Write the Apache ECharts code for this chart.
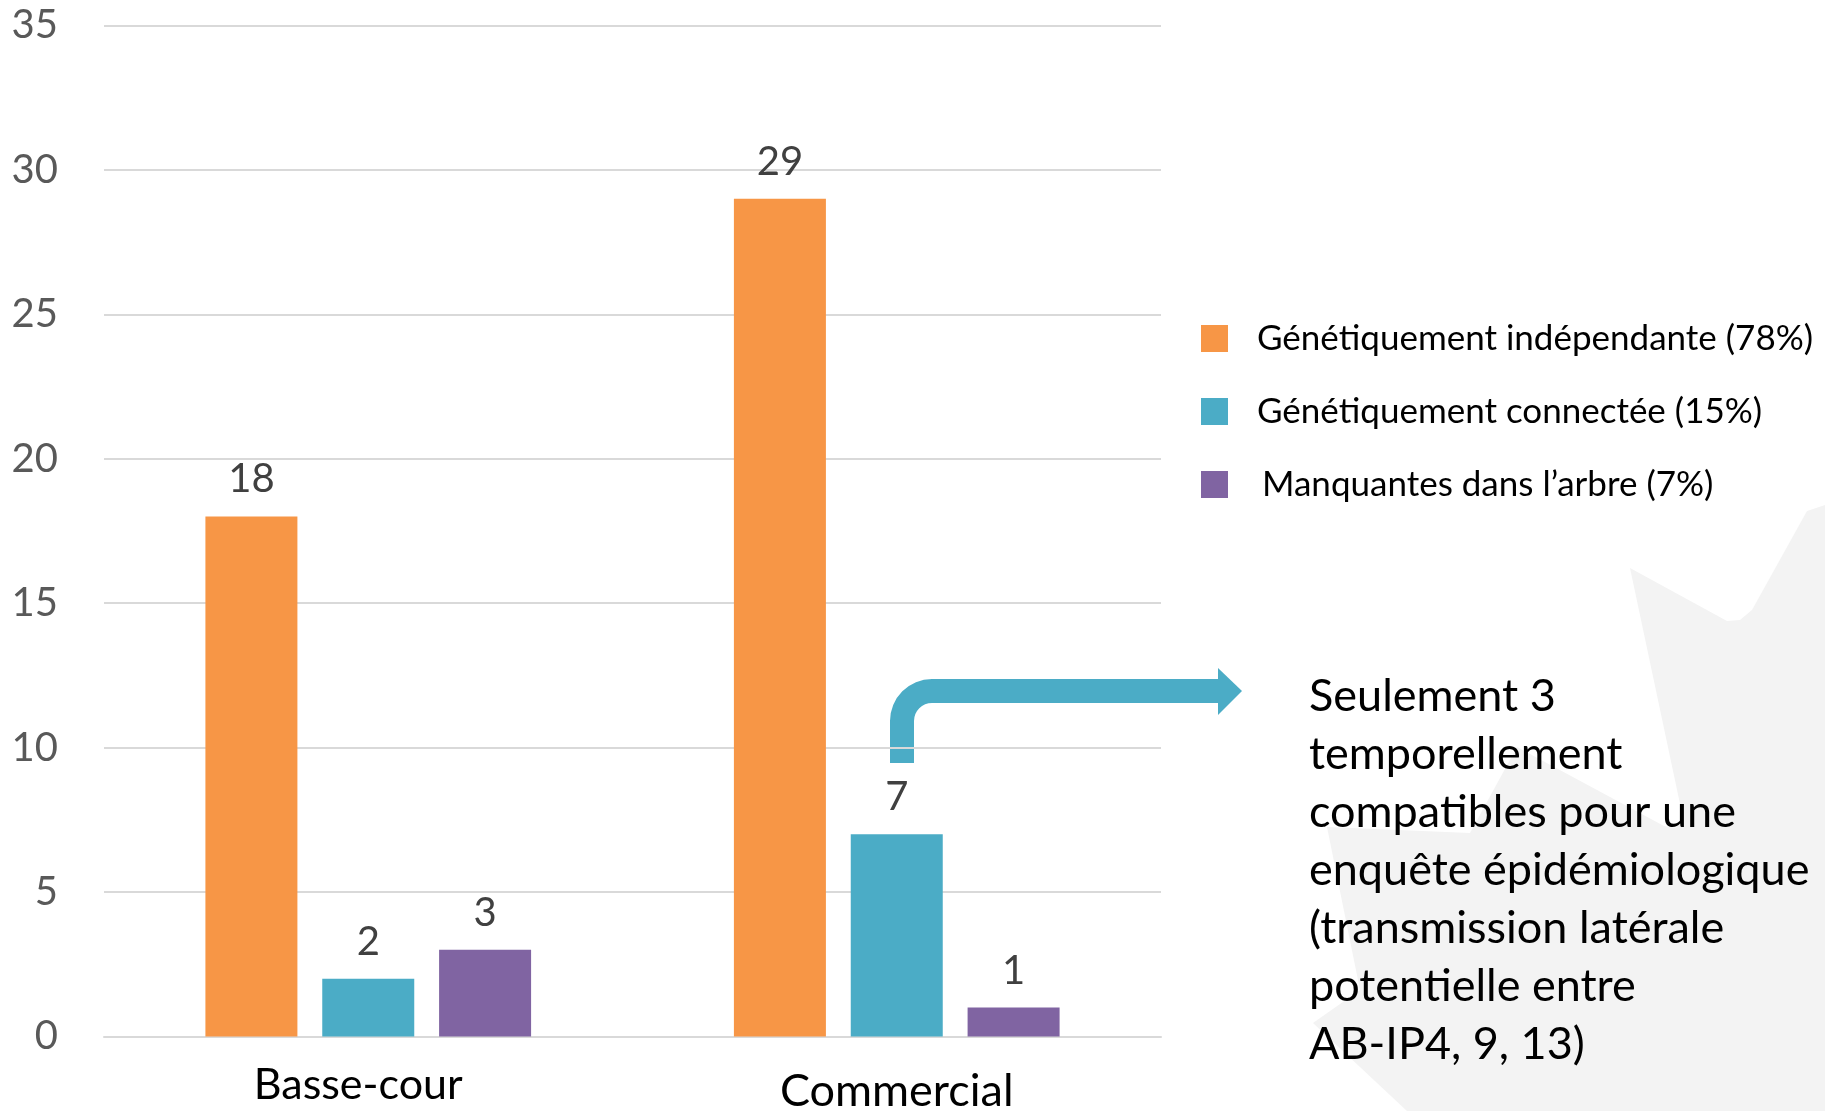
<!DOCTYPE html>
<html>
<head>
<meta charset="utf-8">
<title>Arbre phylogénétique — statut des exploitations</title>
<script src="https://cdn.jsdelivr.net/npm/echarts@6/dist/echarts.min.js"></script>
<style>
  html, body { margin: 0; padding: 0; background: #ffffff; }
  #chart { width: 1825px; height: 1111px; }
</style>
</head>
<body>
<div id="chart"></div>
<script>
// Categories and counts per series
const categories = ['Basse-cour', 'Commercial'];
const seriesNames = [
  'Génétiquement indépendante (78%)',
  'Génétiquement connectée (15%)',
  'Manquantes dans l\u2019arbre (7%)'
];
const independante = [18, 29];
const connectee = [2, 7];
const manquantes = [3, 1];
const yTicks = [0, 5, 10, 15, 20, 25, 30, 35];

const noteLines = [
  'Seulement 3',
  'temporellement',
  'compatibles pour une',
  'enquête épidémiologique',
  '(transmission latérale',
  'potentielle entre',
  'AB-IP4, 9, 13)'
];

const colors = ['#F79646', '#4BACC6', '#8064A2'];
const FONT = 'Lato, "Noto Sans", sans-serif';

const chart = echarts.init(document.getElementById('chart'), null, { renderer: 'canvas' });

function barSeries(name, data, color) {
  return {
    name: name,
    type: 'bar',
    data: data,
    barWidth: 92,
    barGap: '27%',
    itemStyle: { color: color },
    label: {
      show: true,
      position: 'top',
      distance: 17,
      color: '#404040',
      fontFamily: FONT,
      fontSize: 40
    },
    emphasis: { disabled: true }
  };
}

const ARROW = '#4BACC6';

const option = {
  backgroundColor: '#ffffff',
  animation: false,
  grid: {
    left: 104, right: 664, top: 25.5, bottom: 74.5,
    containLabel: false,
    outerBoundsMode: 'none'
  },
  xAxis: {
    type: 'category',
    data: categories,
    axisTick: { show: false },
    axisLine: { lineStyle: { color: '#D9D9D9', width: 2 } },
    axisLabel: {
      margin: 27,
      color: '#000000',
      fontFamily: FONT,
      fontSize: 44,
      formatter: function (v) { return v === 'Basse-cour' ? '{a|' + v + '}' : '{b|' + v + '}'; },
      rich: {
        a: { fontFamily: FONT, fontSize: 43, color: '#000', padding: [0, 20, 0, 0] },
        b: { fontFamily: FONT, fontSize: 45, color: '#000', padding: [5, 0, 0, 0] }
      }
    }
  },
  yAxis: {
    type: 'value',
    min: yTicks[0],
    max: yTicks[yTicks.length - 1],
    interval: yTicks[1] - yTicks[0],
    axisLine: { show: false },
    axisTick: { show: false },
    axisLabel: { margin: 46, color: '#595959', fontFamily: FONT, fontSize: 40 },
    splitLine: { lineStyle: { color: '#D9D9D9', width: 2 } }
  },
  legend: {
    orient: 'vertical',
    left: 1196,
    top: 316,
    icon: 'rect',
    itemWidth: 27,
    itemHeight: 27,
    itemGap: 38,
    selectedMode: false,
    textStyle: { color: '#000000', fontFamily: FONT, fontSize: 35, lineHeight: 27, padding: [0, 0, 0, 24] },
    data: [
      { name: seriesNames[0] },
      { name: seriesNames[1] },
      { name: seriesNames[2], textStyle: { padding: [0, 0, 0, 29] } }
    ]
  },
  graphic: [
    // faint leaf watermark, lower right corner
    {
      type: 'polygon',
      silent: true,
      z: -10,
      shape: {
        points: [
          [1825, 505], [1807, 511], [1752, 610], [1740, 620], [1727, 621],
          [1630, 568], [1683, 818], [1676, 828], [1664, 826],
          [1517, 747], [1470, 833], [1327, 827], [1360, 990],
          [1313, 1023], [1407, 1111], [1825, 1111]
        ]
      },
      style: { fill: '#F3F3F3' }
    },
    // bent arrow leading from the connected commercial bar to the note
    {
      type: 'rect',
      silent: true,
      shape: { x: 890, y: 720, width: 24, height: 43 },
      style: { fill: ARROW }
    },
    {
      type: 'sector',
      silent: true,
      shape: { cx: 932, cy: 721, r0: 18, r: 42, startAngle: Math.PI, endAngle: Math.PI * 1.5, clockwise: true },
      style: { fill: ARROW }
    },
    {
      type: 'rect',
      silent: true,
      shape: { x: 931, y: 679, width: 289, height: 24 },
      style: { fill: ARROW }
    },
    {
      type: 'polygon',
      silent: true,
      shape: { points: [[1218, 668], [1242, 691], [1218, 715]] },
      style: { fill: ARROW }
    },
    {
      type: 'text',
      silent: true,
      left: 1309,
      top: 667,
      style: {
        text: noteLines.join('\n'),
        fill: '#000000',
        font: '45px ' + FONT,
        lineHeight: 58
      }
    }
  ],
  series: [
    barSeries(seriesNames[0], independante, colors[0]),
    barSeries(seriesNames[1], connectee, colors[1]),
    barSeries(seriesNames[2], manquantes, colors[2])
  ]
};

chart.setOption(option);
</script>
</body>
</html>
